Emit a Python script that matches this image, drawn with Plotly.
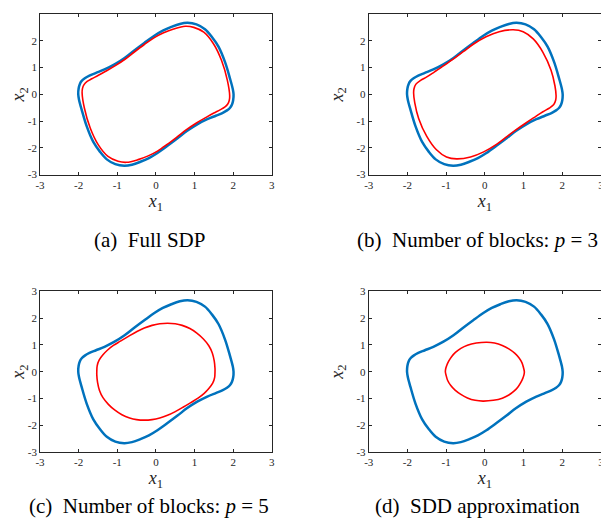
import plotly.graph_objects as go

# Outer (blue) curve, same in every panel
blue_x = [-2.01, -2.00, -1.97, -1.92, -1.84, -1.72, -1.55, -1.33, -1.07, -0.81, -0.56, -0.30, -0.04, 0.18, 0.40, 0.62, 0.82, 1.05, 1.27, 1.45, 1.62, 1.79, 1.92, 1.99, 2.01,
          2.00, 1.97, 1.92, 1.84, 1.72, 1.55, 1.33, 1.07, 0.81, 0.56, 0.30, 0.04, -0.18, -0.40, -0.62, -0.82, -1.05, -1.27, -1.45, -1.62, -1.79, -1.92, -1.99, -2.01]
blue_y = [0.00, 0.22, 0.38, 0.50, 0.60, 0.70, 0.80, 0.93, 1.12, 1.36, 1.64, 1.92, 2.19, 2.38, 2.52, 2.63, 2.67, 2.61, 2.43, 2.14, 1.78, 1.20, 0.58, 0.20, 0.00,
          -0.22, -0.38, -0.50, -0.60, -0.70, -0.80, -0.93, -1.12, -1.36, -1.64, -1.92, -2.19, -2.38, -2.52, -2.63, -2.67, -2.61, -2.43, -2.14, -1.78, -1.20, -0.58, -0.20, 0.00]

# (a) Full SDP
red_a_x = [-1.91, -1.90, -1.86, -1.78, -1.66, -1.50, -1.30, -1.05, -0.80, -0.55, -0.30, -0.04, 0.20, 0.46, 0.76, 0.98, 1.24, 1.49, 1.70, 1.85, 1.91,
           1.90, 1.86, 1.78, 1.66, 1.50, 1.30, 1.05, 0.80, 0.55, 0.30, 0.04, -0.20, -0.46, -0.76, -0.98, -1.24, -1.49, -1.70, -1.85, -1.91]
red_a_y = [0.05, 0.22, 0.36, 0.48, 0.58, 0.70, 0.86, 1.07, 1.31, 1.59, 1.86, 2.12, 2.30, 2.44, 2.54, 2.50, 2.32, 1.89, 1.26, 0.52, -0.05,
           -0.22, -0.36, -0.48, -0.58, -0.70, -0.86, -1.07, -1.31, -1.59, -1.86, -2.12, -2.30, -2.44, -2.54, -2.50, -2.32, -1.89, -1.26, -0.52, 0.05]

# (b) p = 3
red_b_x = [-1.84, -1.83, -1.78, -1.66, -1.50, -1.30, -1.05, -0.80, -0.55, -0.30, 0.03, 0.37, 0.73, 0.99, 1.25, 1.50, 1.71, 1.81, 1.84,
           1.83, 1.78, 1.66, 1.50, 1.30, 1.05, 0.80, 0.55, 0.30, -0.03, -0.37, -0.73, -0.99, -1.25, -1.50, -1.71, -1.81, -1.84]
red_b_y = [0.05, 0.21, 0.38, 0.52, 0.65, 0.84, 1.08, 1.33, 1.60, 1.87, 2.15, 2.34, 2.41, 2.34, 2.07, 1.57, 0.90, 0.32, -0.05,
           -0.21, -0.38, -0.52, -0.65, -0.84, -1.08, -1.33, -1.60, -1.87, -2.15, -2.34, -2.41, -2.34, -2.07, -1.57, -0.90, -0.32, 0.05]

# (c) p = 5
red_c_x = [-1.53, -1.52, -1.47, -1.37, -1.25, -1.10, -0.92, -0.70, -0.49, -0.30, -0.10, 0.10, 0.30, 0.50, 0.68, 0.88, 1.06, 1.23, 1.37, 1.46, 1.51, 1.53, 1.53,
           1.52, 1.47, 1.37, 1.25, 1.10, 0.92, 0.70, 0.49, 0.30, 0.10, -0.10, -0.30, -0.50, -0.68, -0.88, -1.06, -1.23, -1.37, -1.46, -1.51, -1.53, -1.53]
red_c_y = [0.00, 0.22, 0.43, 0.63, 0.81, 0.98, 1.14, 1.33, 1.50, 1.63, 1.73, 1.79, 1.81, 1.79, 1.73, 1.61, 1.44, 1.22, 0.97, 0.70, 0.40, 0.12, 0.00,
           -0.22, -0.43, -0.63, -0.81, -0.98, -1.14, -1.33, -1.50, -1.63, -1.73, -1.79, -1.81, -1.79, -1.73, -1.61, -1.44, -1.22, -0.97, -0.70, -0.40, -0.12, 0.00]

# (d) SDD approximation
red_d_x = [-1.02, -1.01, -0.98, -0.93, -0.86, -0.76, -0.62, -0.45, -0.22, 0.05, 0.25, 0.45, 0.62, 0.77, 0.88, 0.96, 1.00, 1.02,
           1.01, 0.98, 0.93, 0.86, 0.76, 0.62, 0.45, 0.22, -0.05, -0.25, -0.45, -0.62, -0.77, -0.88, -0.96, -1.00, -1.02]
red_d_y = [0.00, 0.12, 0.25, 0.40, 0.56, 0.72, 0.87, 0.99, 1.07, 1.10, 1.07, 0.98, 0.85, 0.69, 0.52, 0.33, 0.14, 0.00,
           -0.12, -0.25, -0.40, -0.56, -0.72, -0.87, -0.99, -1.07, -1.10, -1.07, -0.98, -0.85, -0.69, -0.52, -0.33, -0.14, 0.00]

tick_vals = [-3, -2, -1, 0, 1, 2, 3]
tick_text = ["-3", "-2", "-1", "0", "1", "2", "3"]
captions = ["(a)\u00a0\u00a0Full SDP", "(b)\u00a0\u00a0Number of blocks: <i>p</i>\u00a0=\u00a03",
            "(c)\u00a0\u00a0Number of blocks: <i>p</i>\u00a0=\u00a05", "(d)\u00a0\u00a0SDD approximation"]
reds = [(red_a_x, red_a_y), (red_b_x, red_b_y), (red_c_x, red_c_y), (red_d_x, red_d_y)]

# The page body adds an 8px offset; the figure is sized to fit the window.
OFF = 8
W, H = 609 - OFF, 525 - OFF
BLUE = "#0072BD"
RED = "#FF0000"
AX = "#262626"
SERIF = "Liberation Serif, Times New Roman, serif"

# plot area in window pixels
PL, PR, PT, PB = 39.5, 601.0, 13.5, 452.5
PW, PH = PR - PL, PB - PT

# panel boxes in window pixels (left, right, top, bottom)
boxes = [(39.5, 271.5, 13.5, 174.5), (368.5, 601, 13.5, 174.5),
         (39.5, 271.5, 291.5, 452.5), (368.5, 601, 291.5, 452.5)]
cap_pos = [(149, 240), (477, 240), (149, 507), (477, 507)]

fig = go.Figure()
layout = dict(width=W, height=H,
              margin=dict(l=PL - OFF, r=W - (PR - OFF), t=PT - OFF, b=H - (PB - OFF), pad=0, autoexpand=False),
              paper_bgcolor="white", plot_bgcolor="white", showlegend=False,
              font=dict(family=SERIF, color=AX))
annotations = []
for i, (l, r, t, b) in enumerate(boxes):
    xa = "xaxis" if i == 0 else f"xaxis{i+1}"
    ya = "yaxis" if i == 0 else f"yaxis{i+1}"
    xr = "x" if i == 0 else f"x{i+1}"
    yr = "y" if i == 0 else f"y{i+1}"
    fig.add_trace(go.Scatter(x=blue_x, y=blue_y, mode="lines", xaxis=xr, yaxis=yr,
                             line=dict(color=BLUE, width=2.5, shape="spline", smoothing=1.0),
                             hoverinfo="skip"))
    rx, ry = reds[i]
    fig.add_trace(go.Scatter(x=rx, y=ry, mode="lines", xaxis=xr, yaxis=yr,
                             line=dict(color=RED, width=1.6, shape="spline", smoothing=1.0),
                             hoverinfo="skip"))
    common = dict(range=[-3, 3], tickvals=tick_vals, ticktext=tick_text, ticks="inside",
                  ticklen=3, tickwidth=0.8, tickcolor=AX, showline=True, linecolor=AX,
                  linewidth=0.8, mirror="ticks", showgrid=False, zeroline=False, automargin=False,
                  tickfont=dict(family=SERIF, size=11, color=AX))
    layout[xa] = dict(common, domain=[(l - PL) / PW, min(1.0, (r - PL) / PW)], anchor=yr,
                      title=dict(text="<i>x</i><sub>1</sub>", font=dict(family=SERIF, size=18, color=AX), standoff=4))
    layout[ya] = dict(common, domain=[max(0.0, (PB - b) / PH), min(1.0, (PB - t) / PH)], anchor=xr,
                      title=dict(text="<i>x</i><sub>2</sub>", font=dict(family=SERIF, size=18, color=AX), standoff=8))
    cx, cy = cap_pos[i]
    annotations.append(dict(text=captions[i], x=(cx - PL) / PW, y=(PB - cy) / PH, xref="paper", yref="paper",
                            showarrow=False, xanchor="center", yanchor="middle",
                            font=dict(family=SERIF, size=21, color="black")))
layout["annotations"] = annotations
fig.update_layout(**layout)
fig.write_html("out.html")
